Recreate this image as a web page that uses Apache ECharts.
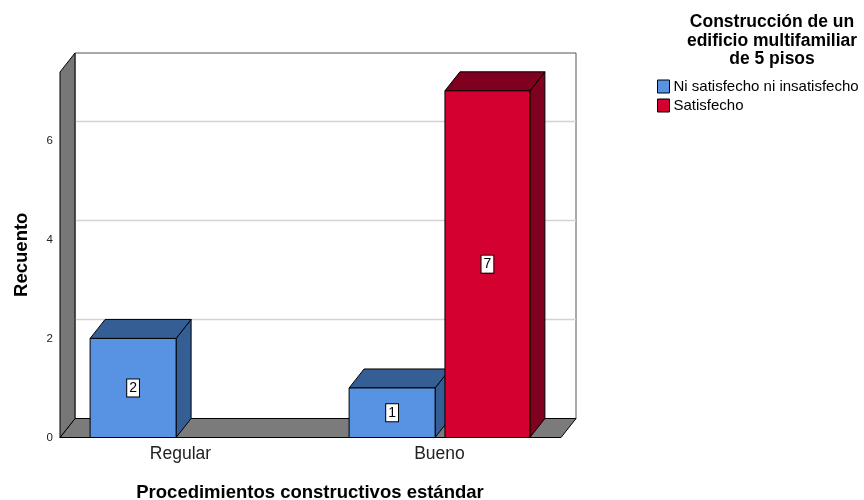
<!DOCTYPE html>
<html>
<head>
<meta charset="utf-8">
<script src="https://cdn.jsdelivr.net/npm/echarts@6/dist/echarts.min.js"></script>
<style>
  html, body { margin: 0; padding: 0; background: #fff; }
  #chart { width: 864px; height: 500px; }
</style>
</head>
<body>
<div id="chart"></div>
<script>
// Counts per category, one array per satisfaction level
const categories = ['Regular', 'Bueno'];
const seriesNames = ['Ni satisfecho ni insatisfecho', 'Satisfecho'];
const niSatisfecho = [2, 1];
const satisfecho = [0, 7];
const yTickValues = [0, 2, 4, 6];
const legendTitle = 'Construcción de un\nedificio multifamiliar\nde 5 pisos';

const FONT = '"Liberation Sans", Arial, sans-serif';
// depth offset of the pseudo-3D projection
const DX = 15, DY = -19;
// bar slots inside a category band (fractions of the band width)
const SLOTS = [[-0.349, -0.017], [0.021, 0.349]];
const COLORS = [
  { front: '#5892e2', dark: '#345e94' },
  { front: '#d4002f', dark: '#80001f' }
];

function toData(values) {
  return values.map((v, i) => [i, v]);
}

// Back wall, grid lines, floor and left wall
function renderFrame(params, api) {
  const cs = params.coordSys;
  const yBase = api.coord([0, 0])[1];
  const yTop = cs.y;
  const xl = cs.x + 9;
  const xr = cs.x + cs.width - 8;
  const children = [];
  children.push({
    type: 'rect',
    shape: { x: xl + DX, y: yTop + DY, width: xr - xl, height: yBase - yTop },
    style: { fill: '#fff', stroke: '#555', lineWidth: 1 }
  });
  yTickValues.forEach(v => {
    if (v <= 0) return;
    const y = Math.round(api.coord([0, v])[1] + DY) + 0.5;
    children.push({
      type: 'line',
      shape: { x1: xl + DX, y1: y, x2: xr + DX, y2: y },
      style: { stroke: '#d3d3d3', lineWidth: 1.5 }
    });
  });
  children.push({
    type: 'polygon',
    shape: { points: [[xl, yBase], [xr, yBase], [xr + DX, yBase + DY], [xl + DX, yBase + DY]] },
    style: { fill: '#7b7b7b', stroke: '#000', lineWidth: 1 }
  });
  children.push({
    type: 'polygon',
    shape: { points: [[xl, yTop], [xl + DX, yTop + DY], [xl + DX, yBase + DY], [xl, yBase]] },
    style: { fill: '#777777', stroke: '#000', lineWidth: 1 }
  });
  return { type: 'group', children };
}

// 3D box bar: front face, top face, side face and a boxed value label
function barRenderer(slot) {
  const col = COLORS[slot];
  return function (params, api) {
    const ci = api.value(0);
    const v = api.value(1);
    if (!v) return null;
    const base = api.coord([ci, 0]);
    const top = api.coord([ci, v]);
    const band = api.size([1, 0])[0];
    const x0 = base[0] + band * SLOTS[slot][0];
    const x1 = base[0] + band * SLOTS[slot][1];
    const yb = base[1];
    const yt = top[1];
    const line = { stroke: '#000', lineWidth: 1, lineJoin: 'round' };
    return {
      type: 'group',
      children: [
        {
          type: 'polygon',
          shape: { points: [[x1, yt], [x1 + DX, yt + DY], [x1 + DX, yb + DY], [x1, yb]] },
          style: Object.assign({ fill: col.dark }, line)
        },
        {
          type: 'polygon',
          shape: { points: [[x0, yt], [x1, yt], [x1 + DX, yt + DY], [x0 + DX, yt + DY]] },
          style: Object.assign({ fill: col.dark }, line)
        },
        {
          type: 'rect',
          shape: { x: x0, y: yt, width: x1 - x0, height: yb - yt },
          style: Object.assign({ fill: col.front }, line)
        },
        {
          type: 'text',
          style: {
            text: String(v),
            x: (x0 + x1) / 2,
            y: (yt + yb) / 2,
            align: 'center',
            verticalAlign: 'middle',
            fill: '#000',
            font: '14px ' + FONT,
            backgroundColor: '#fff',
            borderColor: '#000',
            borderWidth: 1,
            padding: [2, 2, 1, 2]
          }
        }
      ]
    };
  };
}

const chart = echarts.init(document.getElementById('chart'), null, { renderer: 'canvas' });
chart.setOption({
  animation: false,
  backgroundColor: '#fff',
  textStyle: { fontFamily: FONT },
  title: {
    text: legendTitle,
    left: 767,
    top: 8,
    textAlign: 'center',
    textStyle: { fontSize: 17.5, fontWeight: 'bold', color: '#000', lineHeight: 18.5, fontFamily: FONT }
  },
  legend: {
    data: seriesNames,
    orient: 'vertical',
    left: 657,
    top: 79,
    padding: 0,
    itemWidth: 12,
    itemHeight: 13,
    itemGap: 4,
    icon: 'rect',
    itemStyle: { borderColor: '#000', borderWidth: 1 },
    textStyle: { fontSize: 15, color: '#000', padding: [0, 0, 0, -1], fontFamily: FONT }
  },
  grid: { left: 51, top: 72, width: 518, height: 365.5, outerBoundsMode: 'none', containLabel: false },
  xAxis: {
    type: 'category',
    data: categories,
    boundaryGap: true,
    axisLine: { show: false },
    axisTick: { show: false },
    axisLabel: { fontSize: 17.5, color: '#222', margin: 8, fontFamily: FONT },
    name: 'Procedimientos constructivos estándar',
    nameLocation: 'middle',
    nameGap: 46,
    nameTextStyle: { fontSize: 18.5, fontWeight: 'bold', color: '#000', fontFamily: FONT }
  },
  yAxis: {
    type: 'value',
    min: 0,
    max: 7.38,
    interval: 2,
    axisLine: { show: false },
    axisTick: { show: false },
    splitLine: { show: false },
    axisLabel: { fontSize: 11.5, color: '#222', margin: -2, showMaxLabel: false, fontFamily: FONT },
    name: 'Recuento',
    nameLocation: 'middle',
    nameRotate: 90,
    nameGap: 20,
    nameTextStyle: { fontSize: 18.5, fontWeight: 'bold', color: '#000', fontFamily: FONT }
  },
  series: [
    {
      type: 'custom',
      name: 'frame',
      renderItem: renderFrame,
      data: [[0, 0]],
      encode: { x: 0, y: 1 },
      clip: false,
      silent: true,
      z: 1
    },
    {
      type: 'custom',
      name: seriesNames[0],
      renderItem: barRenderer(0),
      data: toData(niSatisfecho),
      encode: { x: 0, y: 1 },
      itemStyle: { color: COLORS[0].front },
      clip: false,
      z: 2
    },
    {
      type: 'custom',
      name: seriesNames[1],
      renderItem: barRenderer(1),
      data: toData(satisfecho),
      encode: { x: 0, y: 1 },
      itemStyle: { color: COLORS[1].front },
      clip: false,
      z: 3
    }
  ]
});
</script>
</body>
</html>
